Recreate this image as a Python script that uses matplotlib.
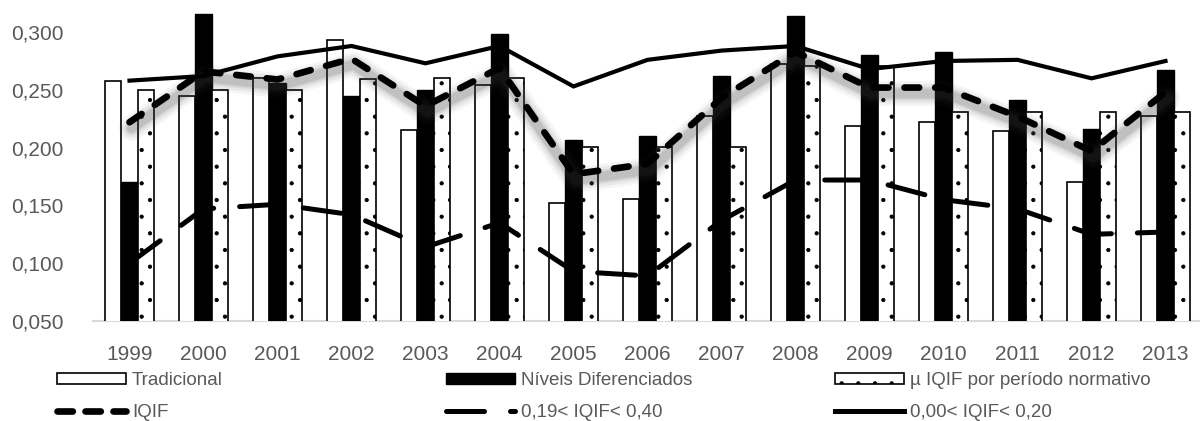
import matplotlib
matplotlib.use("agg")
import matplotlib.pyplot as plt
import matplotlib.ticker as ticker
import matplotlib.transforms as mtransforms
from matplotlib.lines import Line2D
from matplotlib.patches import Patch
import numpy as np

plt.rcParams["font.family"] = ["Liberation Sans", "DejaVu Sans"]
plt.rcParams["hatch.linewidth"] = 0.6

# ---------------------------------------------------------------------------
# Data
# ---------------------------------------------------------------------------
YEARS = ["1999", "2000", "2001", "2002", "2003", "2004", "2005", "2006",
         "2007", "2008", "2009", "2010", "2011", "2012", "2013"]

tradicional = [0.258, 0.245, 0.260, 0.293, 0.215, 0.254, 0.152, 0.156,
               0.227, 0.272, 0.219, 0.222, 0.214, 0.170, 0.227]
niveis_dif = [0.170, 0.316, 0.256, 0.245, 0.250, 0.298, 0.207, 0.210,
              0.262, 0.314, 0.280, 0.283, 0.241, 0.216, 0.267]
mu_iqif = [0.250, 0.250, 0.250, 0.259, 0.260, 0.260, 0.201, 0.201,
           0.201, 0.271, 0.271, 0.231, 0.231, 0.231, 0.231]

iqif = [0.222, 0.266, 0.259, 0.277, 0.236, 0.269, 0.177, 0.186,
        0.243, 0.283, 0.252, 0.252, 0.227, 0.197, 0.248]
iqif_019_040 = [0.100, 0.147, 0.151, 0.142, 0.114, 0.135, 0.093, 0.089,
                0.137, 0.172, 0.172, 0.155, 0.147, 0.125, 0.127]
iqif_000_020 = [0.258, 0.262, 0.279, 0.288, 0.273, 0.288, 0.253, 0.276,
                0.284, 0.288, 0.268, 0.275, 0.276, 0.260, 0.275]

TEXT_GRAY = "#595959"

# ---------------------------------------------------------------------------
# Figure
# ---------------------------------------------------------------------------
fig = plt.figure(figsize=(12, 4.21), dpi=100)
ax = fig.add_axes([92.5 / 1200, 100 / 421, 1110 / 1200, 312 / 421])

x = np.arange(len(YEARS))
w = 0.222

ax.bar(x - w, tradicional, w, color="white", edgecolor="black",
       linewidth=1.2, zorder=2)
ax.bar(x, niveis_dif, w, color="black", edgecolor="black", linewidth=1.0,
       zorder=2)
ax.bar(x + w, mu_iqif, w, color="white", edgecolor="black", linewidth=1.2,
       hatch=".", zorder=2)

# soft shadow under the IQIF line
for lw, a in [(18, 0.05), (14, 0.07), (10, 0.10), (7, 0.14)]:
    tr = mtransforms.offset_copy(ax.transData, fig=fig, x=2, y=-6, units="dots")
    ax.plot(x, iqif, color="#404040", linewidth=lw, alpha=a,
            solid_capstyle="round", solid_joinstyle="round",
            transform=tr, zorder=3)

ax.plot(x, iqif, color="black", linewidth=4.8, dashes=(2.2, 2.4),
        dash_capstyle="round", zorder=4)
ax.plot(x, iqif_019_040, color="black", linewidth=3.6, dashes=(7.6, 5.2),
        dash_capstyle="round", zorder=4)
ax.plot(x, iqif_000_020, color="black", linewidth=3.0,
        solid_joinstyle="miter", zorder=4)

ax.set_xlim(-0.5, len(YEARS) - 0.5)
ax.set_ylim(0.05, 0.32)
ax.set_xticks(x)
ax.set_xticklabels(YEARS)
ax.yaxis.set_major_locator(ticker.MultipleLocator(0.05))
ax.yaxis.set_major_formatter(
    ticker.FuncFormatter(lambda v, p: f"{v:.3f}".replace(".", ",")))

for side in ["top", "right", "left"]:
    ax.spines[side].set_visible(False)
ax.spines["bottom"].set_color("#d9d9d9")
ax.spines["bottom"].set_linewidth(1.5)
ax.spines["bottom"].set_zorder(1)

ax.tick_params(axis="x", length=0, pad=17, labelsize=15, labelcolor=TEXT_GRAY)
ax.tick_params(axis="y", length=0, pad=21, labelsize=15, labelcolor=TEXT_GRAY)

# ---------------------------------------------------------------------------
# Legend: three columns placed like the original
# ---------------------------------------------------------------------------
columns = [
    (57, [Patch(facecolor="white", edgecolor="black", linewidth=1.2),
          Line2D([], [], color="black", linewidth=4.8, dashes=(2.3, 1.9),
                 dash_capstyle="round")],
     ["Tradicional", "IQIF"]),
    (446, [Patch(facecolor="black", edgecolor="black"),
           Line2D([], [], color="black", linewidth=3.6, dashes=(7.6, 5.2),
                  dash_capstyle="round")],
     ["Níveis Diferenciados", "0,19< IQIF< 0,40"]),
    (835, [Patch(facecolor="white", edgecolor="black", linewidth=1.2,
                 hatch="."),
           Line2D([], [], color="black", linewidth=3.6)],
     ["µ IQIF por período normativo", "0,00< IQIF< 0,20"]),
]

for xpos, handles, labels in columns:
    leg = fig.legend(handles, labels, loc="upper left",
                     bbox_to_anchor=(xpos / 1200, 1 - 372 / 421),
                     frameon=False, fontsize=13.5, handlelength=3.7,
                     handleheight=0.5, handletextpad=0.3, labelspacing=0.8,
                     borderaxespad=0, borderpad=0)
    for t in leg.get_texts():
        t.set_color(TEXT_GRAY)

fig.savefig("out.png", dpi=100)
